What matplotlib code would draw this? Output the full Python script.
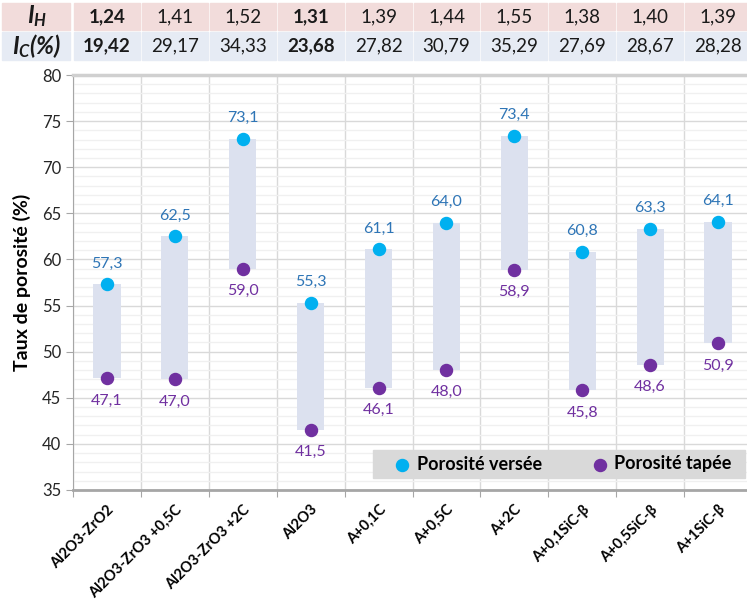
import matplotlib
matplotlib.use("Agg")
import matplotlib.pyplot as plt
import numpy as np
from matplotlib.patches import Rectangle

plt.rcParams['font.family'] = ['Lato', 'DejaVu Sans']
plt.rcParams['mathtext.fontset'] = 'custom'
plt.rcParams['mathtext.it'] = 'Lato:italic:bold'
plt.rcParams['mathtext.rm'] = 'Lato:italic:bold'

# Data
categories = ['Al2O3-ZrO2', 'Al2O3-ZrO3 +0,5C', 'Al2O3-ZrO3 +2C', 'Al2O3', 'A+0,1C',
              'A+0,5C', 'A+2C', 'A+0,1SiC-β', 'A+0,5SiC-β', 'A+1SiC-β']
versee = [57.3, 62.5, 73.1, 55.3, 61.1, 64.0, 73.4, 60.8, 63.3, 64.1]
tapee = [47.1, 47.0, 59.0, 41.5, 46.1, 48.0, 58.9, 45.8, 48.6, 50.9]
ih_vals = ['1,24', '1,41', '1,52', '1,31', '1,39', '1,44', '1,55', '1,38', '1,40', '1,39']
ic_vals = ['19,42', '29,17', '34,33', '23,68', '27,82', '30,79', '35,29', '27,69', '28,67', '28,28']
bold_cols = [0, 3]

W, H = 747, 600
fig = plt.figure(figsize=(W / 100, H / 100), dpi=100)
fig.patch.set_facecolor('white')

# plot area in pixels: left 73, right 752, top 75, bottom 490
x0, x1, yt, yb = 73, 752, 75, 490
ax = fig.add_axes([x0 / W, 1 - yb / H, (x1 - x0) / W, (yb - yt) / H])

x = np.arange(len(categories))
v = np.array(versee)
t = np.array(tapee)

ax.bar(x, v - t, bottom=t, width=0.4, color='#dce1ef', zorder=2)
ax.scatter(x, v, s=75, color='#00b0f0', zorder=3, label='Porosité versée')
ax.scatter(x, t, s=75, color='#7030a0', zorder=3, label='Porosité tapée')

for xi, vi, ti in zip(x, v, t):
    ax.annotate(f'{vi:.1f}'.replace('.', ','), (xi, vi), xytext=(0, 10),
                textcoords='offset points', ha='center', va='bottom',
                fontsize=11.5, color='#2e75b6', zorder=4)
    ax.annotate(f'{ti:.1f}'.replace('.', ','), (xi, ti), xytext=(0, -11),
                textcoords='offset points', ha='center', va='top',
                fontsize=11.5, color='#7030a0', zorder=4)

ax.set_xlim(-0.5, len(categories) - 0.5)
ax.set_ylim(35, 80)
ax.set_yticks(np.arange(35, 81, 5))
ax.set_yticks(np.arange(35, 81, 1), minor=True)
ax.tick_params(axis='y', which='major', labelsize=12, length=5, color='#a6a6a6',
               labelcolor='#262626')
ax.tick_params(axis='y', which='minor', length=0)

# boundaries as major x ticks, labels on minor ticks at centers
ax.set_xticks(np.arange(len(categories) + 1) - 0.5)
ax.set_xticklabels([])
ax.set_xticks(x, minor=True)
ax.set_xticklabels(categories, minor=True, rotation=45, ha='right',
                   rotation_mode='anchor', fontsize=10.5, fontweight='bold')
ax.tick_params(axis='x', which='major', length=5, color='#a6a6a6')
ax.tick_params(axis='x', which='minor', length=0, pad=9)

ax.grid(True, which='major', axis='both', color='#d9d9d9', lw=1, zorder=0)
ax.grid(True, which='minor', axis='y', color='#f0f0f0', lw=1, zorder=0)
ax.set_axisbelow(True)

ax.spines['right'].set_visible(False)
ax.spines['top'].set_color('#d0d0d0')
ax.spines['top'].set_linewidth(2.5)
ax.spines['left'].set_color('#a6a6a6')
ax.spines['bottom'].set_color('#a6a6a6')
ax.spines['bottom'].set_linewidth(2)

ax.set_ylabel('Taux de porosité (%)', fontsize=14, fontweight='bold', labelpad=8)

# legend: grey band with a frameless legend on top
ax.add_patch(Rectangle((373 / W, 1 - 478 / H), (745 - 373) / W, 28 / H,
                       transform=fig.transFigure, color='#d9d9d9', zorder=5,
                       clip_on=False))
leg = ax.legend(loc='center', bbox_to_anchor=(558 / W, 1 - 464 / H),
                bbox_transform=fig.transFigure, ncol=2, frameon=False,
                prop={'size': 13, 'weight': 'bold'}, handletextpad=-0.2,
                columnspacing=2.2, borderpad=0.2)
leg.set_zorder(6)

# table on top
def fx(px):
    return px / W

def fy(py):
    return 1 - py / H

step = (x1 - x0) / len(categories)
rows = [(3, 30, '#f2dcdb', r'$I_H$', ih_vals), (32, 60, '#e6ebf4', r'$I_C(\%)$', ic_vals)]
for top, bot, col, lab, vals in rows:
    fig.patches.append(Rectangle((fx(2), fy(bot)), fx(70 - 2), fy(top) - fy(bot),
                                 transform=fig.transFigure, color=col, zorder=0))
    fig.text(fx(37), fy((top + bot) / 2), lab, ha='center', va='center', fontsize=17,
             color='#1a1a1a')
    for i, val in enumerate(vals):
        left = x0 + i * step + 1
        fig.patches.append(Rectangle((fx(left), fy(bot)), fx(step - 2), fy(top) - fy(bot),
                                     transform=fig.transFigure, color=col, zorder=0))
        fig.text(fx(x0 + (i + 0.5) * step), fy((top + bot) / 2), val, ha='center',
                 va='center', fontsize=13.5, color='#1a1a1a',
                 fontweight='bold' if i in bold_cols else 'normal')

fig.savefig('out.png', dpi=100)
